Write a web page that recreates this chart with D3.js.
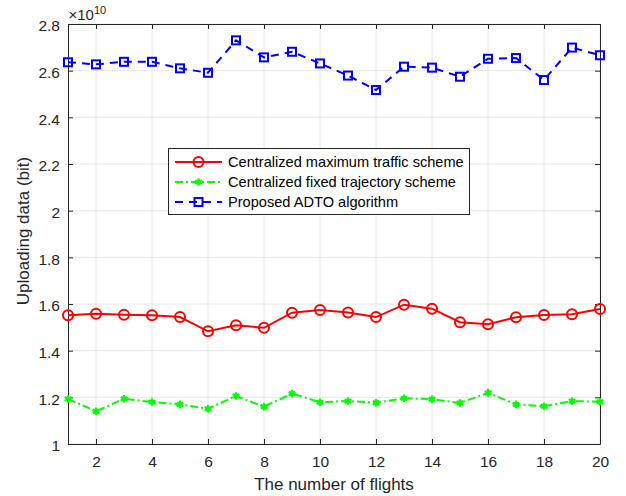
<!DOCTYPE html>
<html>
<head>
<meta charset="utf-8">
<script src="https://cdn.jsdelivr.net/npm/d3@7"></script>
<style>
  html, body { margin: 0; padding: 0; background: #fff; }
  svg { display: block; font-family: "Liberation Sans", Arial, Helvetica, sans-serif; }
</style>
</head>
<body>
<svg id="chart" width="626" height="496"></svg>
<script>
// Number of flights on the x axis
const flights = d3.range(1, 21);

// Uploading data per scheme, in units of 1e10 bit
const maxTraffic = [1.552, 1.558, 1.554, 1.552, 1.544, 1.483, 1.509, 1.498, 1.563, 1.574,
                    1.564, 1.544, 1.597, 1.580, 1.522, 1.513, 1.543, 1.553, 1.556, 1.579];
const fixedTrajectory = [1.193, 1.140, 1.194, 1.180, 1.170, 1.151, 1.206, 1.160, 1.216, 1.179,
                         1.184, 1.177, 1.196, 1.192, 1.176, 1.219, 1.170, 1.162, 1.184, 1.181];
const adto = [2.636, 2.627, 2.638, 2.638, 2.610, 2.591, 2.730, 2.657, 2.681, 2.631,
              2.579, 2.517, 2.617, 2.613, 2.574, 2.651, 2.654, 2.560, 2.699, 2.666];

const xTicks = [2, 4, 6, 8, 10, 12, 14, 16, 18, 20];
const yTicks = [1, 1.2, 1.4, 1.6, 1.8, 2, 2.2, 2.4, 2.6, 2.8];

const seriesNames = ["Centralized maximum traffic scheme",
                     "Centralized fixed trajectory scheme",
                     "Proposed ADTO algorithm"];

const svg = d3.select("#chart");
const margin = { left: 68, right: 26, top: 24, bottom: 52 };
const W = 626, H = 496;
const x = d3.scaleLinear().domain([1, 20]).range([margin.left, W - margin.right]);
const y = d3.scaleLinear().domain([1, 2.8]).range([H - margin.bottom, margin.top]);

const axisColor = "#262626";
const gridColor = "#e6e6e6";
const tickFont = "15.5px";

// grid
const grid = svg.append("g");
grid.selectAll(".gx").data(xTicks).join("line")
  .attr("x1", d => x(d)).attr("x2", d => x(d))
  .attr("y1", y.range()[1]).attr("y2", y.range()[0])
  .attr("stroke", gridColor).attr("stroke-width", 1);
grid.selectAll(".gy").data(yTicks).join("line")
  .attr("y1", d => y(d)).attr("y2", d => y(d))
  .attr("x1", x.range()[0]).attr("x2", x.range()[1])
  .attr("stroke", gridColor).attr("stroke-width", 1);

// axes (ticks pointing inward, box on)
const tickLen = 5;
function styleAxis(g) {
  g.selectAll("path").attr("stroke", axisColor).attr("stroke-width", 1);
  g.selectAll("line").attr("stroke", axisColor);
  g.selectAll("text").attr("fill", axisColor).style("font-size", tickFont);
}
svg.append("g").attr("transform", `translate(0,${y.range()[0]})`)
  .call(d3.axisBottom(x).tickValues(xTicks).tickSize(-tickLen).tickSizeOuter(0).tickPadding(12))
  .call(styleAxis);
svg.append("g").attr("transform", `translate(0,${y.range()[1]})`)
  .call(d3.axisTop(x).tickValues(xTicks).tickSize(-tickLen).tickSizeOuter(0).tickFormat(""))
  .call(styleAxis);
svg.append("g").attr("transform", `translate(${x.range()[0]},0)`)
  .call(d3.axisLeft(y).tickValues(yTicks).tickSize(-tickLen).tickSizeOuter(0).tickPadding(8)
        .tickFormat(d => d3.format("~g")(d)))
  .call(styleAxis)
  .call(g => g.selectAll("text").attr("dy", "0.45em"));
svg.append("g").attr("transform", `translate(${x.range()[1]},0)`)
  .call(d3.axisRight(y).tickValues(yTicks).tickSize(-tickLen).tickSizeOuter(0).tickFormat(""))
  .call(styleAxis);

// exponent label
const expo = svg.append("text").attr("x", x.range()[0] + 0.5).attr("y", y.range()[1] - 4)
  .attr("fill", axisColor).style("font-size", "15px");
expo.append("tspan").text("\u00d710");
expo.append("tspan").attr("dy", -6).style("font-size", "11px").text("10");

// axis titles
svg.append("text").attr("x", (x.range()[0] + x.range()[1]) / 2).attr("y", 490)
  .attr("text-anchor", "middle").attr("fill", axisColor).style("font-size", "17px")
  .text("The number of flights");
svg.append("text").attr("transform", `translate(28.5,231) rotate(-90)`)
  .attr("text-anchor", "middle").attr("fill", axisColor).style("font-size", "17px")
  .text("Uploading data (bit)");

// series
const series = [
  { name: seriesNames[0], values: maxTraffic, color: "#ff0000", dash: null, marker: "circle" },
  { name: seriesNames[1], values: fixedTrajectory, color: "#00ff00", dash: "8,3,2,3", marker: "star" },
  { name: seriesNames[2], values: adto, color: "#0000ff", dash: "8,6", marker: "square" }
];

const line = d3.line().x((d, i) => x(flights[i])).y(d => y(d));

function drawMarker(g, type, color) {
  if (type === "circle") {
    g.append("circle").attr("r", 5).attr("fill", "none").attr("stroke", color).attr("stroke-width", 2);
  } else if (type === "square") {
    g.append("rect").attr("x", -4).attr("y", -4).attr("width", 8).attr("height", 8)
      .attr("fill", "none").attr("stroke", color).attr("stroke-width", 2);
  } else {
    g.append("path").attr("d", d3.symbol(d3.symbolAsterisk, 40)()).attr("stroke", color).attr("stroke-width", 2.2).attr("fill", "none");
    g.append("circle").attr("r", 2.5).attr("fill", color);
  }
}

series.forEach(s => {
  svg.append("path").datum(s.values).attr("d", line)
    .attr("fill", "none").attr("stroke", s.color).attr("stroke-width", 2)
    .attr("stroke-dasharray", s.dash);
  svg.append("g").selectAll("g").data(s.values).join("g")
    .attr("transform", (d, i) => `translate(${x(flights[i])},${y(d)})`)
    .each(function () { drawMarker(d3.select(this), s.marker, s.color); });
});

// legend
const lg = svg.append("g");
lg.append("rect").attr("x", 168.5).attr("y", 148.5).attr("width", 301).attr("height", 66)
  .attr("fill", "#fff").attr("stroke", axisColor).attr("stroke-width", 1);
series.forEach((s, i) => {
  const cy = 162 + i * 20;
  lg.append("line").attr("x1", 175).attr("x2", 222).attr("y1", cy).attr("y2", cy)
    .attr("stroke", s.color).attr("stroke-width", 2).attr("stroke-dasharray", s.dash);
  const m = lg.append("g").attr("transform", `translate(198.5,${cy})`);
  drawMarker(m, s.marker, s.color);
  lg.append("text").attr("x", 228).attr("y", cy + 5).attr("fill", "#000")
    .style("font-size", "14.6px").text(s.name);
});
</script>
</body>
</html>
